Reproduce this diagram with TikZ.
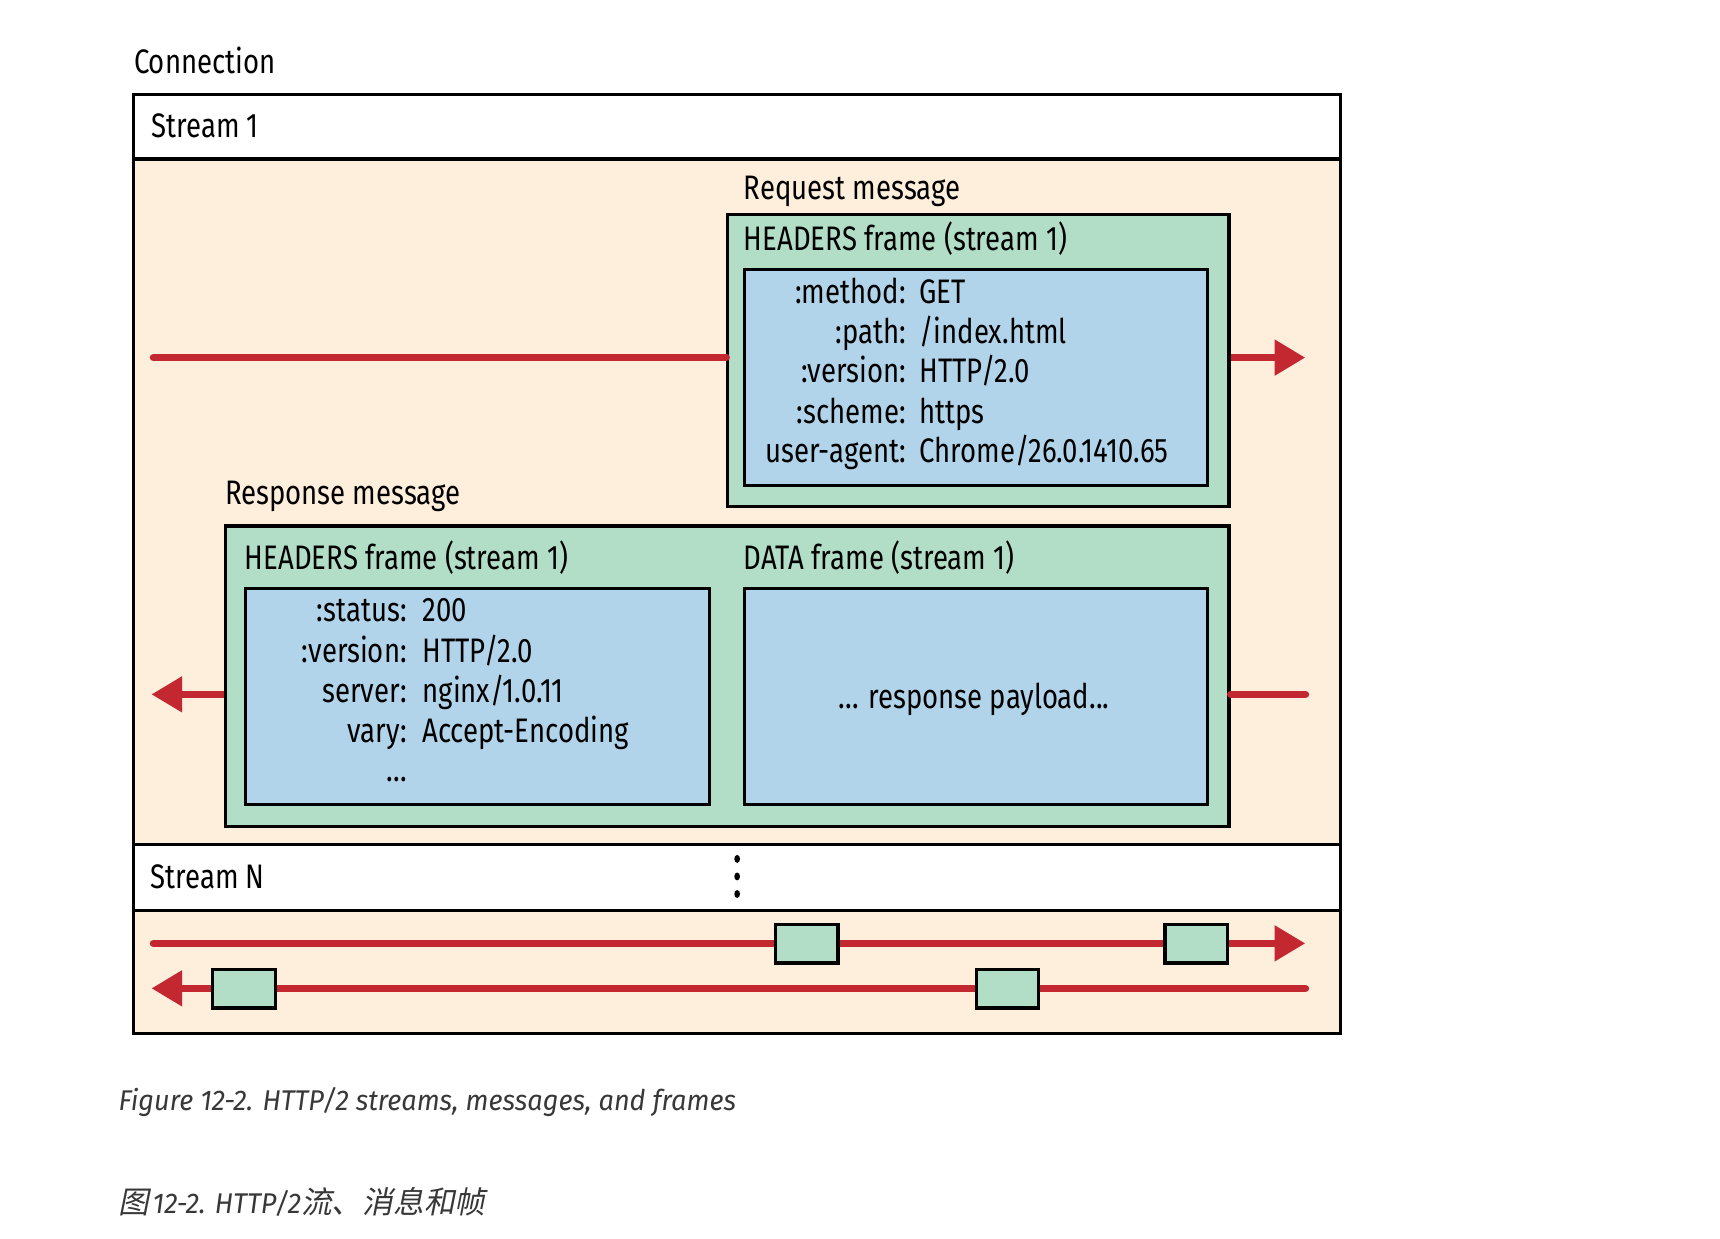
\documentclass[tikz,border=0pt]{standalone}
\usepackage{fontspec}
\usetikzlibrary{arrows.meta,calc}
\newfontfamily\dfont[FakeStretch=0.81]{Fira Sans}
\newfontfamily\capfont[FakeStretch=0.95]{Fira Sans}
\newfontfamily\cjkfont[FakeSlant=0.2]{Noto Sans CJK SC}
\definecolor{peach}{HTML}{FEEEDC}
\definecolor{gbox}{HTML}{B2DEC7}
\definecolor{bbox}{HTML}{B1D4EA}
\definecolor{rline}{HTML}{C3272F}
\definecolor{capgray}{HTML}{383838}
\tikzset{
  txt/.style={font=\dfont\fontsize{31}{36}\selectfont, inner sep=0pt, anchor=base west},
  lbl/.style={font=\dfont\fontsize{31}{36}\selectfont, inner sep=0pt, anchor=base east},
  band/.style={draw=black, line width=3pt},
  greenbox/.style={draw=black, fill=gbox, line width=3pt, anchor=north west, inner sep=0pt},
  bluebox/.style={draw=black, fill=bbox, line width=3pt, anchor=north west, inner sep=0pt},
  sq/.style={draw=black, fill=gbox, line width=3pt, minimum width=57pt, minimum height=35pt, inner sep=0pt},
  redline/.style={draw=rline, line width=7pt, line cap=round},
  redarrow/.style={draw=rline, line width=7pt, -{Triangle[length=28pt,width=31pt]}},
  captxt/.style={font=\capfont\itshape\fontsize{26}{30}\selectfont, text=capgray, inner sep=0pt, anchor=base west}
}
\begin{document}
\begin{tikzpicture}[x=1pt,y=-1pt]
\useasboundingbox (0,0) rectangle (1568,1128.6);
\fill[white] (0,0) rectangle (1568,1128.6);
% bands
\draw[band, fill=white] (122,86) rectangle (1222,145);
\draw[band, fill=peach] (122,145) rectangle (1222,770);
\draw[band, fill=white] (122,770) rectangle (1222,830);
\draw[band, fill=peach] (122,830) rectangle (1222,942);
\node[txt] (conn) at (122,67) {Connection};
\node[txt] (s1) at (138,125) {Stream 1};
\node[txt] (sN) at (137,810) {Stream N};
\foreach \yy in {783,799,815} \fill (672,\yy) ellipse [x radius=2.6pt, y radius=3.6pt];
% request
\node[txt] (reqlbl) at (678,182) {Request message};
\node[greenbox, minimum width=457pt, minimum height=266pt] (req) at (662,194) {};
\node[txt] (reqh) at (678,228) {HEADERS frame (stream 1)};
\node[bluebox, minimum width=422pt, minimum height=197pt] (reqb) at (677,244) {};
\node[lbl] (m1) at (826,277) {:method:};
\node[txt] (v1) at (838,277) {GET};
\node[lbl] (m2) at (826,313) {:path:};
\node[txt] (v2) at (838,313) {/index.html};
\node[lbl] (m3) at (826,349) {:version:};
\node[txt] (v3) at (838,349) {HTTP/2.0};
\node[lbl] (m4) at (826,386) {:scheme:};
\node[txt] (v4) at (838,386) {https};
\node[lbl] (m5) at (826,422) {user-agent:};
\node[txt] (v5) at (838,422) {Chrome/26.0.1410.65};
\coordinate (reqL) at (140,326);
\coordinate (reqR) at (1190,326);
\draw[redline] (reqL) -- (req.west |- reqL);
\draw[redarrow] (req.east |- reqR) -- (reqR);
% response
\node[txt] (rsplbl) at (205,460) {Response message};
\node[greenbox, minimum width=915pt, minimum height=274pt] (rsp) at (204,478) {};
\node[txt] (rsph) at (223,519) {HEADERS frame (stream 1)};
\node[txt] (rspd) at (678,519) {DATA frame (stream 1)};
\node[bluebox, minimum width=423pt, minimum height=197pt] (rspb) at (222,535) {};
\node[bluebox, minimum width=422pt, minimum height=197pt] (rspc) at (677,535) {};
\node[lbl] (r1) at (371,567) {:status:};
\node[txt] (w1) at (385,567) {200};
\node[lbl] (r2) at (371,604) {:version:};
\node[txt] (w2) at (385,604) {HTTP/2.0};
\node[lbl] (r3) at (371,640) {server:};
\node[txt] (w3) at (385,640) {nginx/1.0.11};
\node[lbl] (r4) at (371,677) {vary:};
\node[txt] (w4) at (385,677) {Accept-Encoding};
\node[lbl] (r5) at (371,712) {...};
\node[txt, anchor=base] (pay) at (888,646) {... response payload...};
\coordinate (rspL) at (138,633);
\coordinate (rspR) at (1190,633);
\draw[redarrow] (rsp.west |- rspL) -- (rspL);
\draw[redline] (rspR) -- (rsp.east |- rspR);
% stream N
\coordinate (nAL) at (140,860);
\coordinate (nAR) at (1190,860);
\coordinate (nBL) at (138,901);
\coordinate (nBR) at (1190,901);
\draw[redline] (nAL) -- ($(nAR)+(-20,0)$);
\draw[redarrow] (nAL) -- (nAR);
\draw[redline] (nBR) -- ($(nBL)+(20,0)$);
\draw[redarrow] (nBR) -- (nBL);
\node[sq] (f1) at (735.5,860.5) {};
\node[sq] (f2) at (1090.5,860.5) {};
\node[sq] (f3) at (222.5,901.5) {};
\node[sq] (f4) at (918.5,901.5) {};
% captions
\node[captxt] (cap1) at (108,1012) {Figure 12-2. HTTP/2 streams, messages, and frames};
\node[captxt] (cap2) at (108,1106) {{\cjkfont\fontsize{28}{30}\selectfont 图}\kern3pt 12-2. HTTP/2{\cjkfont\fontsize{28}{30}\selectfont 流、消息和帧}};
\end{tikzpicture}
\end{document}
